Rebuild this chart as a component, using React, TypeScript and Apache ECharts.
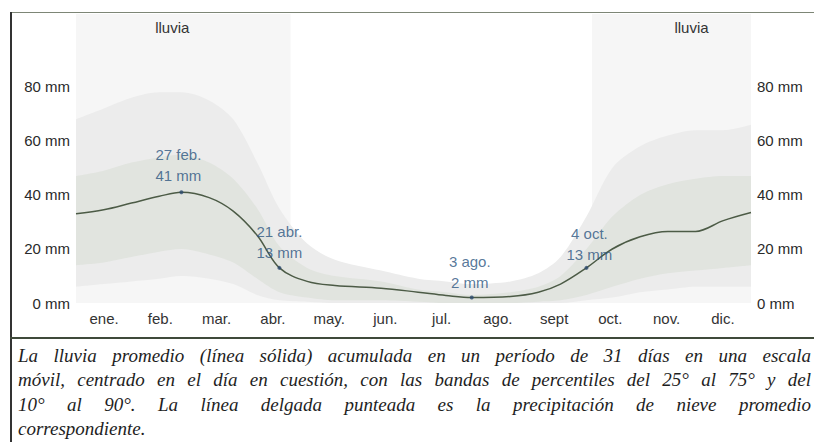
import React, { useEffect, useRef } from "react";
import * as echarts from "echarts";

const months = ["ene.", "feb.", "mar.", "abr.", "may.", "jun.", "jul.", "ago.", "sept", "oct.", "nov.", "dic."];
const yTicks = [0, 20, 40, 60, 80];

// day of year samples
const days = [0, 15, 30, 45, 57, 72, 85, 98, 110, 125, 140, 165, 185, 200, 214, 235, 250, 262, 276, 290, 305, 320, 335, 350, 365];
const rain = [33, 34.5, 37, 39.5, 41, 39, 34, 25, 13, 8, 6.5, 5.5, 4, 2.8, 2, 2.4, 4, 7, 13, 20, 24.5, 26.5, 26.5, 30.5, 33.5];
const p90 = [68, 72, 76, 78, 78, 75, 68, 52, 35, 22, 16, 12, 9, 8, 7, 8, 11, 17, 32, 50, 58, 62, 64, 64, 66];
const p75 = [47, 49, 52, 54, 55, 52, 46, 35, 21, 13, 10, 8, 5, 4, 3, 4, 6, 10, 20, 32, 40, 44, 46, 47, 47];
const p25 = [14, 15, 17, 19, 20, 18, 15, 9, 4, 2, 1, 1, 0.5, 0, 0, 0, 0.5, 1, 3, 6, 9, 11, 12, 13, 14];
const p10 = [6, 7, 8, 9, 10, 9, 7, 3, 1, 0.5, 0, 0, 0, 0, 0, 0, 0, 0, 1, 2, 4, 5, 6, 6, 6];

// rainy season (day ranges)
const rainySeasons = [[0, 116], [279, 365]];
const seasonLabel = "lluvia";
const seasonLabelOffset = [-11, 20];

const annotDays = [57, 110, 214, 276];
const annotVals = [41, 13, 2, 13];
const annotText = ["27 feb.\n41 mm", "21 abr.\n13 mm", "3 ago.\n2 mm", "4 oct.\n13 mm"];
const annotOffsetX = [-3, 0, -2, 3];
const annotDist = [4, 3, 3, 1];

const captionLines = [
  "La lluvia promedio (línea sólida) acumulada en un período de 31 días en una escala",
  "móvil, centrado en el día en cuestión, con las bandas de percentiles del 25° al 75° y del",
  "10° al 90°. La línea delgada punteada es la precipitación de nieve promedio",
  "correspondiente.",
];

const SANS = "'Liberation Sans', Arial, sans-serif";
const SERIF = "'Liberation Serif', 'Times New Roman', serif";

function buildCaption(): any[] {
  const fontSize = 19;
  const canvas = document.createElement("canvas");
  const ctx = canvas.getContext("2d")!;
  ctx.font = `italic ${fontSize}px ${SERIF}`;
  const left = 18;
  const right = 811;
  const els: any[] = [];
  captionLines.forEach((line, li) => {
    const y = 355 + li * 24.5;
    const words = line.split(" ");
    const widths = words.map((w) => ctx.measureText(w).width);
    const total = widths.reduce((a, b) => a + b, 0);
    const last = li === captionLines.length - 1;
    const gap = last || words.length < 2 ? ctx.measureText(" ").width : (right - left - total) / (words.length - 1);
    let x = left;
    words.forEach((w, i) => {
      els.push({
        type: "text",
        x,
        y,
        style: {
          text: w,
          fontStyle: "italic",
          fontSize,
          fontFamily: SERIF,
          fill: "#1e1e1e",
          verticalAlign: "middle",
          align: "left",
        },
      });
      x += widths[i] + gap;
    });
  });
  return els;
}

export default function App() {
  const ref = useRef<HTMLDivElement>(null);
  useEffect(() => {
    if (!ref.current) return;
    const chart = echarts.init(ref.current, undefined, { renderer: "svg" });
    const pts = (arr: number[]) => days.map((d, i) => [d, arr[i]]);

    const yLabel = {
      formatter: (v: number) => (yTicks.indexOf(v) >= 0 ? `${v} mm` : ""),
      color: "#2a2a2a",
      fontSize: 15,
      fontFamily: SANS,
      margin: 6,
    };

    const band = (name: string, arr: number[], color: string) => ({
      type: "line",
      name,
      data: pts(arr),
      smooth: 0.3,
      symbol: "none",
      lineStyle: { width: 0, opacity: 0 },
      areaStyle: { color, opacity: 1, origin: "start" },
      silent: true,
      z: 2,
    });

    const option: any = {
      animation: false,
      backgroundColor: "#ffffff",
      grid: { left: 76, right: 63, top: 14, bottom: 139 },
      xAxis: [
        { type: "value", min: 0, max: 365, show: false, gridIndex: 0 },
        {
          type: "category",
          data: months,
          gridIndex: 0,
          position: "bottom",
          boundaryGap: true,
          axisLine: { show: false },
          axisTick: { show: false },
          splitLine: { show: false },
          axisLabel: { color: "#333", fontSize: 15, fontFamily: SANS, margin: 8 },
        },
      ],
      yAxis: [
        {
          type: "value",
          min: 0,
          max: 107,
          interval: 20,
          position: "left",
          axisLine: { show: false },
          axisTick: { show: false },
          splitLine: { show: false },
          axisLabel: yLabel,
        },
        {
          type: "value",
          min: 0,
          max: 107,
          interval: 20,
          position: "right",
          axisLine: { show: false },
          axisTick: { show: false },
          splitLine: { show: false },
          axisLabel: yLabel,
        },
      ],
      series: [
        {
          type: "line",
          name: "season",
          data: [],
          silent: true,
          z: 1,
          markArea: {
            silent: true,
            itemStyle: { color: "#f6f6f6" },
            label: {
              show: true,
              position: "insideTop",
              distance: 6,
              color: "#333",
              fontSize: 15,
              fontFamily: SANS,
            },
            data: rainySeasons.map((r, i) => [
              { xAxis: r[0], name: seasonLabel, label: { offset: [seasonLabelOffset[i], 0] } },
              { xAxis: r[1] },
            ]),
          },
        },
        band("p90", p90, "#ececec"),
        band("p75", p75, "#e1e4df"),
        band("p25", p25, "#ececec"),
        band("p10", p10, "#f6f6f6"),
        {
          type: "line",
          name: "lluvia",
          data: pts(rain),
          smooth: 0.35,
          symbol: "none",
          lineStyle: { color: "#4c5b46", width: 1.5 },
          z: 3,
        },
        {
          type: "scatter",
          name: "annot",
          data: annotDays.map((d, i) => ({
            value: [d, annotVals[i]],
            label: {
              show: true,
              position: "top",
              distance: annotDist[i],
              offset: [annotOffsetX[i], 0],
              formatter: annotText[i],
              color: "#2c5580",
              fontSize: 15,
              lineHeight: 21,
              fontFamily: SANS,
              align: "center",
            },
          })),
          symbol: "circle",
          symbolSize: 4,
          itemStyle: { color: "#2c4a6e" },
          z: 4,
        },
      ],
      graphic: [
        { type: "line", shape: { x1: 10, y1: 12.5, x2: 814, y2: 12.5 }, style: { stroke: "#7d8676", lineWidth: 1.2 } },
        { type: "line", shape: { x1: 11, y1: 12, x2: 11, y2: 442 }, style: { stroke: "#333", lineWidth: 2 } },
        { type: "line", shape: { x1: 10, y1: 338, x2: 814, y2: 338 }, style: { stroke: "#3f4a3a", lineWidth: 2 } },
        ...buildCaption(),
      ],
    };
    chart.setOption(option);
    return () => chart.dispose();
  }, []);
  return (
    <div
      ref={ref}
      style={{ position: "fixed", left: 0, top: 0, width: 814, height: 442 }}
    />
  );
}
